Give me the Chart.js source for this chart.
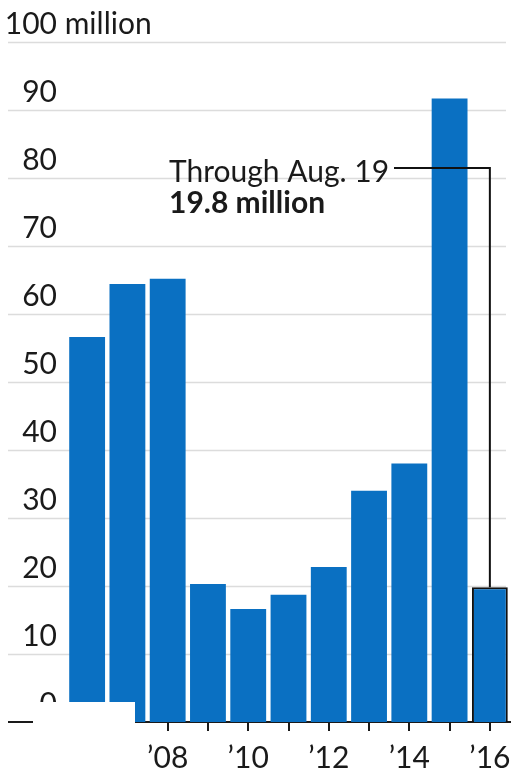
<!DOCTYPE html>
<html>
<head>
<meta charset="utf-8">
<script src="https://cdn.jsdelivr.net/npm/chart.js@4.4.1/dist/chart.umd.min.js"></script>
<style>
  html, body { margin: 0; padding: 0; background: #ffffff; }
  #wrap { width: 513px; height: 772px; position: relative; }
</style>
</head>
<body>
<div id="wrap"><canvas id="barChart"></canvas></div>
<script>
var years = ['2006', '2007', '2008', '2009', '2010', '2011', '2012', '2013', '2014', '2015', '2016'];
var yearLabels = ['', '', '\u201908', '', '\u201910', '', '\u201912', '', '\u201914', '', '\u201916'];
var sharesMillions = [56.6, 64.4, 65.2, 20.3, 16.6, 18.7, 22.8, 34.0, 38.0, 91.7, 19.8];
var yTicks = [0, 10, 20, 30, 40, 50, 60, 70, 80, 90, 100];
var noteLines = ['Through Aug. 19', '19.8 million'];
var noteValue = 81.5;

var FONT = 'Lato, "Liberation Sans", sans-serif';
var BLUE = '#0a70c2';
var INK = '#1a1a1a';

// gridlines + y labels sit above the line, like the print graphic
var gridPlugin = {
    id: 'gridLabels',
    beforeDatasetsDraw: function(chart) {
        var ctx = chart.ctx;
        var y = chart.scales.y;
        ctx.save();
        ctx.strokeStyle = '#dcdcdc';
        ctx.lineWidth = 1.5;
        yTicks.forEach(function(v) {
            if (v === 0) return;
            var py = Math.round(y.getPixelForValue(v)) + 0.5;
            ctx.beginPath();
            ctx.moveTo(8, py);
            ctx.lineTo(506, py);
            ctx.stroke();
        });
        ctx.restore();
    },
    afterDraw: function(chart) {
        var ctx = chart.ctx;
        var y = chart.scales.y;
        var y0 = y.getPixelForValue(0);
        ctx.save();
        ctx.font = '30px ' + FONT;
        ctx.fillStyle = INK;
        ctx.textBaseline = 'alphabetic';
        yTicks.forEach(function(v) {
            var py = y.getPixelForValue(v) - 8;
            ctx.textAlign = 'right';
            ctx.fillText(String(v), 57, py);
            if (v === 100) {
                ctx.textAlign = 'left';
                ctx.fillText(' million', 57, py);
            }
        });
        // scan cut-off at the lower left corner
        ctx.fillStyle = '#ffffff';
        ctx.fillRect(0, y0 - 20, 135, 38);
        ctx.strokeStyle = INK;
        ctx.lineWidth = 2;
        ctx.beginPath();
        ctx.moveTo(8, y0);
        ctx.lineTo(33, y0);
        ctx.stroke();
        ctx.restore();
    }
};

var notePlugin = {
    id: 'note',
    afterDatasetsDraw: function(chart) {
        var ctx = chart.ctx;
        var y = chart.scales.y;
        var bar = chart.getDatasetMeta(0).data[10];
        var ly = Math.round(y.getPixelForValue(noteValue));
        ctx.save();
        ctx.fillStyle = INK;
        ctx.textAlign = 'left';
        ctx.textBaseline = 'alphabetic';
        ctx.font = '30px ' + FONT;
        ctx.fillText(noteLines[0], 169, ly + 14);
        ctx.font = 'bold 30px ' + FONT;
        ctx.fillText(noteLines[1], 169, ly + 45);
        ctx.strokeStyle = '#111111';
        ctx.lineWidth = 2;
        ctx.beginPath();
        ctx.moveTo(394, ly);
        ctx.lineTo(bar.x, ly);
        ctx.lineTo(bar.x, bar.y);
        ctx.stroke();
        ctx.restore();
    }
};

const ctx = document.getElementById('barChart');

new Chart(ctx, {
    type: 'bar',
    data: {
        labels: years,
        datasets: [{
            data: sharesMillions,
            backgroundColor: BLUE,
            borderColor: sharesMillions.map(function(v, i) { return i === 10 ? '#111111' : BLUE; }),
            borderWidth: sharesMillions.map(function(v, i) { return i === 10 ? 2 : 0; }),
            borderSkipped: 'bottom',
            categoryPercentage: 1,
            barPercentage: 0.89
        }]
    },
    plugins: [gridPlugin, notePlugin],
    options: {
        responsive: true,
        maintainAspectRatio: false,
        animation: false,
        layout: {
            padding: { left: 67, right: 3, top: 42, bottom: 0 }
        },
        scales: {
            x: {
                afterFit: function(scale) {
                    // keep the baseline at the print position
                    scale.height = 50;
                    scale.paddingLeft = 0;
                    scale.paddingRight = 0;
                },
                grid: {
                    display: true,
                    offset: false,
                    drawOnChartArea: false,
                    drawTicks: true,
                    tickLength: 9,
                    color: INK,
                    lineWidth: 2
                },
                border: { display: true, color: INK, width: 2 },
                ticks: {
                    autoSkip: false,
                    maxRotation: 0,
                    padding: 9,
                    color: INK,
                    font: { family: FONT, size: 30 },
                    callback: function(value, index) {
                        return yearLabels[index];
                    }
                }
            },
            y: {
                min: 0,
                max: 100,
                display: false
            }
        },
        plugins: {
            legend: { display: false },
            tooltip: { enabled: false }
        }
    }
});
</script>
</body>
</html>
